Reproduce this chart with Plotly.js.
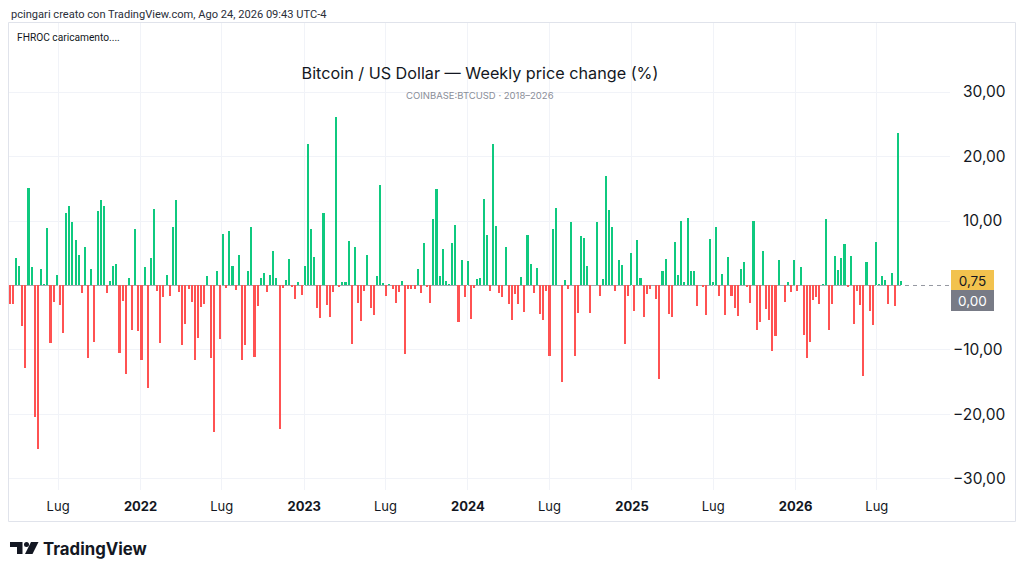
<!DOCTYPE html>
<html>
<head>
<meta charset="utf-8">
<script src="https://cdn.plot.ly/plotly-3.0.1.min.js"></script>
<style>
  html, body { margin: 0; padding: 0; background: #ffffff; }
  #chart { width: 1024px; height: 574px; }
</style>
</head>
<body>
<div id="chart"></div>
<script>
// ---------------- DATA ----------------
const seriesName = "BTCUSD weekly change (%)";
const firstWeek = "2021-03-15";          // Monday of the first weekly bar
const weeklyChange = [
  -2.8,-2.9,4.3,3.0,-6.3,-12.8,15.1,2.9,-20.4,-25.3,
  2.5,0.3,8.9,-8.9,-2.5,1.6,-3.0,-7.3,11.3,12.4,
  9.8,7.1,4.7,-1.1,6.0,-11.3,2.6,-8.7,11.6,13.3,
  12.4,-1.2,0.7,3.1,3.4,-10.5,-2.4,-13.8,
  1.1,-6.9,8.7,-7.0,-11.6,2.8,-15.9,4.3,11.8,-0.9,
  -8.9,-1.8,1.7,-1.7,9.1,13.3,-1.0,-9.3,-6.0,-0.6,
  -2.6,-11.6,-8.1,-3.4,-2.8,1.4,-11.3,-22.7,2.2,-8.3,
  8.0,-0.4,8.5,3.1,-0.7,4.8,-11.6,-9.2,
  2.2,9.0,-11.1,-3.2,1.2,1.9,-1.0,1.6,5.3,1.2,
  -22.2,-0.4,0.9,4.1,-0.2,-2.1,0.5,-1.4,3.0,21.9,
  8.7,4.4,-3.5,-5.1,11.3,-3.0,-4.9,-1.0,26.1,-0.3,
  0.6,0.5,6.9,-9.1,5.9,-2.7,-5.5,-0.8,
  4.8,-3.5,-4.5,1.4,15.6,0.4,-1.6,0.2,-0.6,-2.7,
  -1.0,0.7,-10.6,-0.5,-0.5,-0.6,2.6,-1.1,6.6,-0.3,
  -2.7,10.3,15.0,1.4,5.7,0.7,0.2,6.6,9.4,-5.6,
  4.0,-1.8,3.8,-5.2,-0.4,1.0,1.2,13.4,
  7.8,-0.9,21.9,9.2,-1.1,-1.8,5.9,-2.8,-5.3,-1.3,
  -2.9,1.3,-4.1,7.8,3.3,-1.1,2.7,-4.4,-5.3,-0.9,
  -11.0,8.7,12.0,0.1,-14.9,0.9,-0.5,9.8,-10.9,-4.3,
  7.6,7.4,3.1,-4.3,0.1,9.8,-1.7,1.0,
  17.0,11.7,9.0,-0.9,3.9,3.2,-9.0,-1.7,5.1,-4.0,
  7.0,1.2,-4.9,-1.3,-0.5,0.1,-2.1,-14.5,2.3,4.1,
  -4.4,-4.9,6.8,1.7,10.0,0.5,10.4,2.2,2.3,-3.2,
  0.1,-0.3,-4.5,7.2,0.6,9.0,-1.7,1.8,
  -4.5,4.4,-1.7,-3.5,-4.7,2.6,3.6,-0.3,-2.7,10.0,
  -6.9,-5.6,5.3,-3.6,-5.4,-10.1,-7.9,4.0,0.1,-2.5,
  0.5,-1.0,4.0,-0.8,2.9,-7.7,-11.3,-8.7,-2.3,-1.8,
  -2.8,0.2,10.3,-6.9,-2.9,4.5,2.4,4.2,6.5,
  -0.2,4.6,-6.0,-0.9,-3.1,-14.1,3.7,-3.9,-6.1,6.8,
  0.2,1.4,0.9,-2.9,2.0,-3.2,23.6,0.75
];
const xTickVals = ["2021-07-01","2022-01-01","2022-07-01","2023-01-01","2023-07-01",
                   "2024-01-01","2024-07-01","2025-01-01","2025-07-01","2026-01-01","2026-07-01"];
const xTickText = ["Lug","<b>2022</b>","Lug","<b>2023</b>","Lug",
                   "<b>2024</b>","Lug","<b>2025</b>","Lug","<b>2026</b>","Lug"];
const yTickVals = [-30,-20,-10,10,20,30];
const yTickText = ["\u221230,00","\u221220,00","\u221210,00","\u200710,00","\u200720,00","\u200730,00"];
const lastValueLabel = "0,75";
const zeroLabel = "0,00";
const headerText = "pcingari creato con TradingView.com, Ago 24, 2026 09:43 UTC-4";
const indicatorText = "FHROC caricamento....";
const titleText = "Bitcoin / US Dollar \u2014 Weekly price change (%)";
const subtitleText = "COINBASE:BTCUSD \u00b7 2018\u20132026";

// ---------------- BUILD ----------------
const DAY = 86400000;
const start = Date.parse(firstWeek + "T00:00:00Z");
const weekDates = weeklyChange.map((_, i) => new Date(start + i * 7 * DAY).toISOString().slice(0, 10));
const GREEN = "#0fc97f", RED = "#ff5252";
const barColors = weeklyChange.map(v => v >= 0 ? GREEN : RED);

const W = 1024, H = 574;
const M = { l: 9, r: 74, t: 23, b: 84 };
const PW = W - M.l - M.r, PH = H - M.t - M.b;
const px = X => (X - M.l) / PW;
const py = Y => (H - M.b - Y) / PH;

const FONT = "Inter, Roboto, 'Noto Sans', sans-serif";
const SMALL = "Roboto, Inter, sans-serif";
const INK = "#131722";

const trace = {
  type: "bar",
  name: seriesName,
  x: weekDates,
  y: weeklyChange,
  width: 0.66 * 7 * DAY,
  marker: { color: barColors, line: { width: 0 } },
  hoverinfo: "skip"
};

function logoPath(pts) {
  return "M" + pts.map(p => px(p[0]).toFixed(5) + "," + py(p[1]).toFixed(5)).join(" L") + " Z";
}

const layout = {
  width: W, height: H,
  margin: M,
  paper_bgcolor: "#ffffff",
  plot_bgcolor: "#ffffff",
  showlegend: false,
  bargap: 0,
  font: { family: FONT, color: INK, size: 13 },
  title: {
    text: titleText,
    font: { family: FONT, size: 16.2, color: INK },
    xref: "paper", x: px(480), xanchor: "center",
    yref: "container", y: 1 - 73 / H, yanchor: "middle"
  },
  xaxis: {
    type: "date",
    range: ["2021-03-13T12:00:00", "2026-12-11T07:00:00"],
    tickmode: "array",
    tickvals: xTickVals,
    ticktext: xTickText,
    showgrid: true,
    gridcolor: "#f1f3f8",
    gridwidth: 1,
    zeroline: false,
    showline: false,
    ticks: "",
    tickfont: { family: FONT, size: 13, color: INK },
    ticklabelstandoff: 7,
    fixedrange: true
  },
  yaxis: {
    side: "right",
    range: [-31.71, 40.70],
    tickmode: "array",
    tickvals: yTickVals,
    ticktext: yTickText,
    showgrid: true,
    gridcolor: "#f1f3f8",
    gridwidth: 1,
    zeroline: false,
    showline: false,
    ticks: "",
    tickfont: { family: FONT, size: 15.5, color: INK },
    ticklabelstandoff: 2,
    fixedrange: true
  },
  shapes: [
    { type: "rect", xref: "paper", yref: "paper",
      x0: px(8.5), x1: px(1015.5), y0: py(521.5), y1: py(22.5),
      line: { color: "#e0e3eb", width: 1 }, fillcolor: "rgba(0,0,0,0)", layer: "below" },
    { type: "line", xref: "x", yref: "y",
      x0: weekDates[0], x1: weekDates[weekDates.length - 1], y0: 0, y1: 0,
      line: { color: "#a3a6af", width: 1 }, layer: "below" },
    { type: "line", xref: "paper", yref: "y",
      x0: px(905), x1: px(949), y0: 0, y1: 0,
      line: { color: "#9598a1", width: 1, dash: "4px,4px" } },
    { type: "path", xref: "paper", yref: "paper",
      path: logoPath([[10,542],[22.5,542],[22.5,554],[17,554],[17,547],[10,547]]),
      fillcolor: INK, line: { width: 0 } },
    { type: "circle", xref: "paper", yref: "paper",
      x0: px(24), x1: px(29), y0: py(542), y1: py(547),
      fillcolor: INK, line: { width: 0 } },
    { type: "path", xref: "paper", yref: "paper",
      path: logoPath([[31,542],[38.5,542],[32.5,554],[25,554]]),
      fillcolor: INK, line: { width: 0 } }
  ],
  annotations: [
    { xref: "paper", yref: "paper", x: px(9), y: py(14), xanchor: "left", yanchor: "middle",
      text: headerText, showarrow: false, font: { family: SMALL, size: 11.1, color: "#2a2e39" } },
    { xref: "paper", yref: "paper", x: px(15), y: py(37), xanchor: "left", yanchor: "middle",
      text: indicatorText, showarrow: false, font: { family: SMALL, size: 10.2, color: INK } },
    { xref: "paper", yref: "paper", x: px(480), y: py(96), xanchor: "center", yanchor: "middle",
      text: subtitleText, showarrow: false, font: { family: FONT, size: 9.5, color: "#8a8e99" } },
    { xref: "paper", yref: "y", x: px(951), y: weeklyChange[weeklyChange.length - 1],
      xanchor: "left", yanchor: "middle", yshift: 0,
      text: lastValueLabel, showarrow: false, width: 37, height: 15, borderpad: 2,
      bgcolor: "#f2c24e", bordercolor: "#f2c24e", borderwidth: 1, align: "center",
      font: { family: FONT, size: 13.5, color: INK } },
    { xref: "paper", yref: "y", x: px(951), y: 0,
      xanchor: "left", yanchor: "middle", yshift: -15.5,
      text: zeroLabel, showarrow: false, width: 37, height: 15, borderpad: 2,
      bgcolor: "#787b86", bordercolor: "#787b86", borderwidth: 1, align: "center",
      font: { family: FONT, size: 13.5, color: "#ffffff" } },
    { xref: "paper", yref: "paper", x: px(41), y: py(548.5), xanchor: "left", yanchor: "middle",
      text: "<b>TradingView</b>", showarrow: false, font: { family: FONT, size: 16.8, color: INK } }
  ]
};

Plotly.newPlot("chart", [trace], layout, { staticPlot: true, displayModeBar: false });
</script>
</body>
</html>
